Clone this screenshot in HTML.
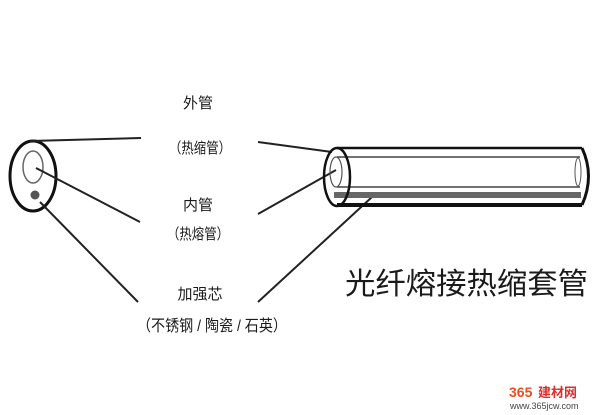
<!DOCTYPE html>
<html><head><meta charset="utf-8"><style>
html,body{margin:0;padding:0;background:#fff;width:600px;height:415px;overflow:hidden}
svg text{font-family:"Liberation Sans","Noto Sans CJK SC",sans-serif;fill:#1a1a1a}
</style></head><body>
<svg width="600" height="415" viewBox="0 0 600 415" xmlns="http://www.w3.org/2000/svg">
<ellipse cx="33" cy="176" rx="23" ry="35" fill="none" stroke="#111" stroke-width="3"/>
<ellipse cx="33" cy="167" rx="10" ry="16" fill="none" stroke="#666" stroke-width="1.5"/>
<circle cx="35" cy="195" r="4.5" fill="#555"/>
<g stroke="#222" stroke-width="2" fill="none">
<line x1="30" y1="141" x2="141" y2="138"/>
<line x1="36" y1="168" x2="140" y2="222"/>
<line x1="40" y1="202" x2="138" y2="302"/>
<line x1="258" y1="142" x2="332" y2="152"/>
<line x1="258" y1="214" x2="336" y2="170"/>
<line x1="258" y1="302" x2="372" y2="197"/>
</g>
<line x1="337" y1="148" x2="582" y2="148" stroke="#111" stroke-width="2.5"/>
<line x1="337" y1="205" x2="582" y2="205" stroke="#111" stroke-width="4"/>
<line x1="337" y1="157" x2="580" y2="157" stroke="#444" stroke-width="1.5"/>
<line x1="337" y1="187" x2="580" y2="187" stroke="#444" stroke-width="1.5"/>
<rect x="334" y="192" width="247" height="6" fill="#666"/>
<path d="M582 148 Q595 176 582 205" fill="none" stroke="#111" stroke-width="3"/>
<ellipse cx="578" cy="172" rx="3" ry="14" fill="none" stroke="#555" stroke-width="1"/>
<ellipse cx="337" cy="177" rx="13" ry="29" fill="none" stroke="#111" stroke-width="2.5"/>
<ellipse cx="336" cy="172" rx="6" ry="15" fill="none" stroke="#555" stroke-width="1.2"/>
<text x="198" y="108" font-size="15" text-anchor="middle">外管</text>
<text x="169" y="153" font-size="15" textLength="62" lengthAdjust="spacingAndGlyphs">（热缩管）</text>
<text x="198" y="210" font-size="15" text-anchor="middle">内管</text>
<text x="167" y="239" font-size="15" textLength="62" lengthAdjust="spacingAndGlyphs">（热熔管）</text>
<text x="200" y="299" font-size="15" text-anchor="middle">加强芯</text>
<text x="137" y="331" font-size="16" textLength="150" lengthAdjust="spacingAndGlyphs">（不锈钢 / 陶瓷 / 石英）</text>
<text x="345" y="294" font-size="30" textLength="243" lengthAdjust="spacingAndGlyphs">光纤熔接热缩套管</text>
<text x="509" y="397" font-size="14" font-weight="bold" style="fill:#e8501e">365</text>
<text x="538" y="397" font-size="13" font-weight="bold" style="fill:#d9302a">建材网</text>
<text x="510" y="409" font-size="9" style="fill:#444">www.365jcw.com</text>
</svg>
</body></html>
